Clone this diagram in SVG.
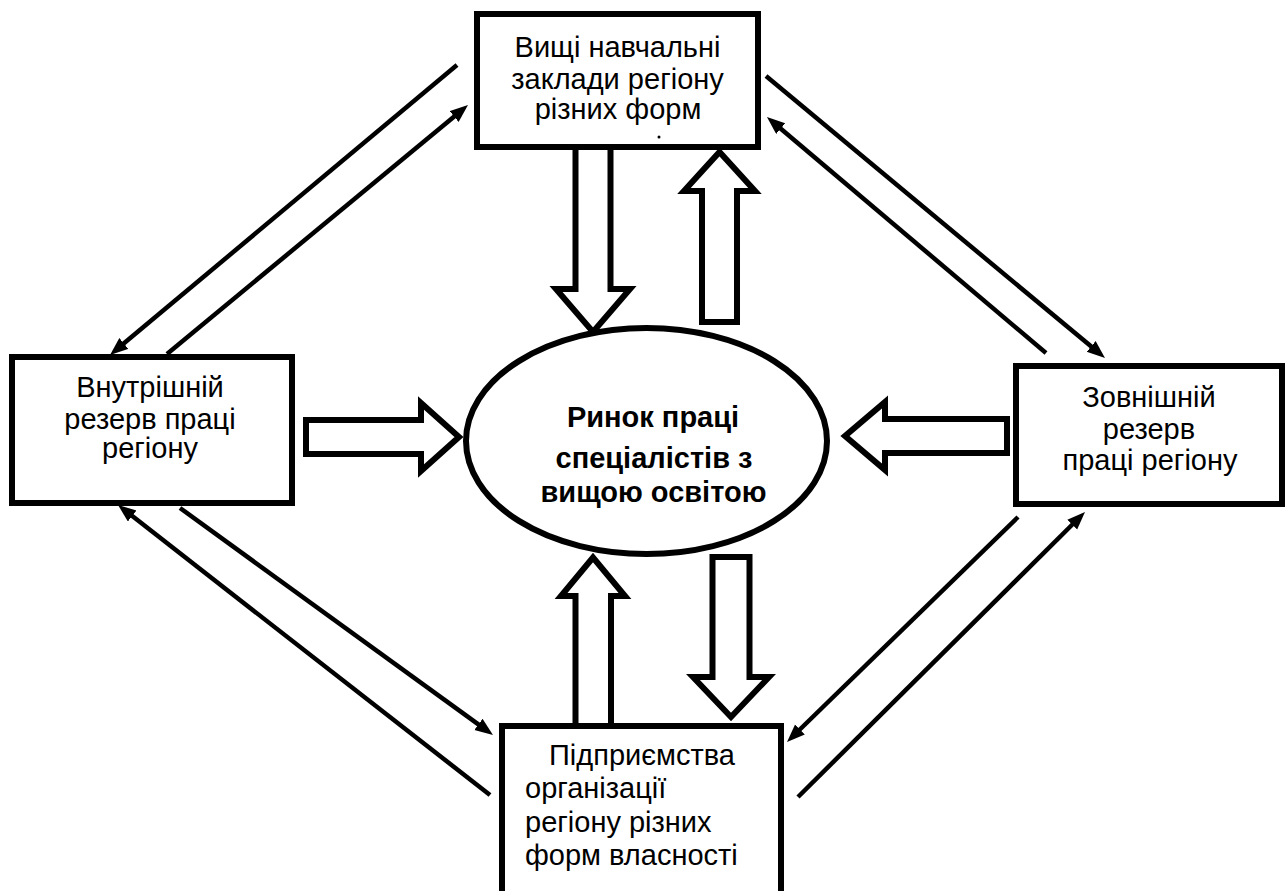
<svg xmlns="http://www.w3.org/2000/svg" width="1287" height="891" viewBox="0 0 1287 891">
<defs>
<marker id="ah" markerUnits="userSpaceOnUse" markerWidth="20" markerHeight="16" refX="8" refY="7" orient="auto">
<path d="M0,0 L18,7 L0,14 z" fill="#000"/>
</marker>
<style>
.box{fill:#fff;stroke:#000;stroke-width:6}
.blk{fill:#fff;stroke:#000;stroke-width:6;stroke-linejoin:miter;stroke-miterlimit:10}
.ln{stroke:#000;stroke-width:4.5;fill:none}
.t{font-family:"Liberation Sans",Arial,sans-serif;font-size:29px;fill:#000}
.c{text-anchor:middle}
.b{font-weight:bold}
</style>
</defs>
<rect width="1287" height="891" fill="#fff"/>

<g id="connectors">
<line class="ln" x1="457" y1="65" x2="117.7" y2="348.6" marker-end="url(#ah)"/>
<line class="ln" x1="167" y1="354" x2="460.3" y2="111.4" marker-end="url(#ah)"/>
<line class="ln" x1="766" y1="76" x2="1097.3" y2="351.6" marker-end="url(#ah)"/>
<line class="ln" x1="1046" y1="353" x2="774.6" y2="123.5" marker-end="url(#ah)"/>
<line class="ln" x1="490" y1="795" x2="125.9" y2="511.1" marker-end="url(#ah)"/>
<line class="ln" x1="180" y1="508" x2="484.9" y2="729.1" marker-end="url(#ah)"/>
<line class="ln" x1="1018" y1="517" x2="794.2" y2="735" marker-end="url(#ah)"/>
<line class="ln" x1="798" y1="797" x2="1077.9" y2="519" marker-end="url(#ah)"/>
<polygon class="blk" points="575.5,147 575.5,289 556,289 593,332 630,289 610.5,289 610.5,147"/>
<polygon class="blk" points="702,322 702,191 684,191 719.5,152 755,191 737,191 737,322"/>
<polygon class="blk" points="575.5,726 575.5,596 561,596 593,557.5 625,596 611,596 611,726"/>
<polygon class="blk" points="712.5,557 712.5,677 693,677 731,717 769,677 749.5,677 749.5,557"/>
<polygon class="blk" points="306,420 421,420 421,403 459,437 421,471 421,454 306,454"/>
<polygon class="blk" points="1007,419 885,419 885,402 845,436 885,470 885,453 1007,453"/>
</g>

<g id="node-top">
<rect class="box" x="477" y="14" width="281" height="133"/>
<text class="t c" x="617.5" y="57">Вищі навчальні</text>
<text class="t c" x="617.5" y="89">заклади регіону</text>
<text class="t c" x="618" y="119">різних форм</text>
<circle cx="659" cy="137" r="1.5" fill="#000"/>
</g>

<g id="node-center">
<ellipse cx="646.5" cy="441" rx="180.5" ry="113" fill="#fff" stroke="#000" stroke-width="6"/>
<text class="t c b" x="653" y="427">Ринок праці</text>
<text class="t c b" x="654" y="468">спеціалістів з</text>
<text class="t c b" x="653.5" y="502">вищою освітою</text>
</g>

<g id="node-left">
<rect class="box" x="12" y="357" width="280" height="146"/>
<text class="t c" x="150" y="397">Внутрішній</text>
<text class="t c" x="150" y="429">резерв праці</text>
<text class="t c" x="150" y="458">регіону</text>
</g>

<g id="node-right">
<rect class="box" x="1016" y="366" width="266" height="138"/>
<text class="t c" x="1149" y="407">Зовнішній</text>
<text class="t c" x="1149" y="439">резерв</text>
<text class="t c" x="1150" y="470">праці регіону</text>
</g>

<g id="node-bottom">
<rect class="box" x="502" y="726" width="279" height="200"/>
<text class="t" x="549" y="765">Підприємства</text>
<text class="t" x="525" y="798">організації</text>
<text class="t" x="525" y="832">регіону різних</text>
<text class="t" x="525" y="865">форм власності</text>
</g>
</svg>
